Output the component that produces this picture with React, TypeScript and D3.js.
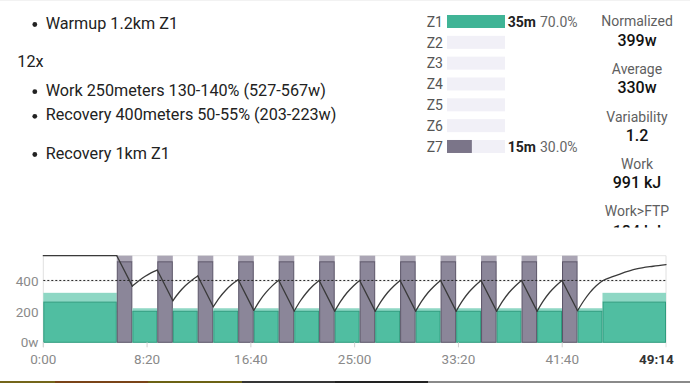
import React from "react";
import * as d3 from "d3";

// ---------- data ----------
const steps = [
  "Warmup 1.2km Z1",
  "Work 250meters 130-140% (527-567w)",
  "Recovery 400meters 50-55% (203-223w)",
  "Recovery 1km Z1",
];
const repeatLabel = "12x";

const zoneNames = ["Z1", "Z2", "Z3", "Z4", "Z5", "Z6", "Z7"];
const zoneMinutes = [35, 0, 0, 0, 0, 0, 15];
const zonePercent = [70.0, 0, 0, 0, 0, 0, 30.0];

const statLabels = ["Normalized", "Average", "Variability", "Work", "Work>FTP"];
const statValues = ["399w", "330w", "1.2", "991 kJ", "184 kJ"];

// workout intervals (seconds, watts)
const intervalStart = [0, 354, 429, 549, 624, 744, 819, 939, 1014, 1134, 1209, 1329, 1404, 1524, 1599, 1719, 1794, 1914, 1989, 2109, 2184, 2304, 2379, 2499, 2574, 2694];
const intervalEnd = [354, 429, 549, 624, 744, 819, 939, 1014, 1134, 1209, 1329, 1404, 1524, 1599, 1719, 1794, 1914, 1989, 2109, 2184, 2304, 2379, 2499, 2574, 2694, 3000];
const intervalLow = [263, 527, 203, 527, 203, 527, 203, 527, 203, 527, 203, 527, 203, 527, 203, 527, 203, 527, 203, 527, 203, 527, 203, 527, 203, 263];
const intervalHigh = [324, 567, 223, 567, 223, 567, 223, 567, 223, 567, 223, 567, 223, 567, 223, 567, 223, 567, 223, 567, 223, 567, 223, 567, 223, 324];
const intervalZone = ["Z1", "Z7", "Z1", "Z7", "Z1", "Z7", "Z1", "Z7", "Z1", "Z7", "Z1", "Z7", "Z1", "Z7", "Z1", "Z7", "Z1", "Z7", "Z1", "Z7", "Z1", "Z7", "Z1", "Z7", "Z1", "Z1"];

const ftp = 405;

// W' balance style line (watts scale)
const wbalStart = 567;
const wbalWorkStart = [567, 473, 434, 410, 406, 405, 405, 405, 405, 405, 405, 405];
const wbalWorkEnd = [368, 272, 233, 209, 205, 204, 204, 204, 204, 204, 204, 207];
const wbalRec30 = [402, 326, 293, 275, 272, 271, 271, 271, 271, 271, 271, 272];
const wbalRec60 = [431, 370, 341, 328, 326, 326, 326, 326, 326, 326, 326, 327];
const wbalRec90 = [455, 405, 380, 371, 370, 369, 369, 369, 369, 369, 369, 370];
const wbalRecEnd = [473, 434, 410, 406, 405, 405, 405, 405, 405, 405, 405, 403];
const cooldownT = [2694, 2739, 2778, 2858, 2938, 3000];
const cooldownW = [403, 428, 447, 480, 498, 509];

const xTickValues = [0, 500, 1000, 1500, 2000, 2500];
const xTickLabels = ["0:00", "8:20", "16:40", "25:00", "33:20", "41:40"];
const endTickValue = 2954;
const endTickLabel = "49:14";
const yTickValues = [0, 200, 400];
const yTickLabels = ["0w", "200", "400"];

const stripStops = [0, 55, 148, 242, 335, 428, 690];
const stripColors = ["#74661a", "#7a4418", "#6c6214", "#353535", "#222222", "#8a8a8a"];

// ---------- component ----------
export default function App() {
  const W = 690, H = 383;
  const font = "Roboto, 'Noto Sans', sans-serif";

  const x = d3.scaleLinear().domain([0, 3000]).range([43.3, 666]);
  const y = d3.scaleLinear().domain([0, 567]).range([342.3, 255.7]);

  const zoneMax = d3.max(zoneMinutes) as number;
  const zx = d3.scaleLinear().domain([0, zoneMax]).range([0, 58]);

  const lin = d3.line<[number, number]>().x(d => x(d[0])).y(d => y(d[1]));
  const mono = d3.line<[number, number]>().x(d => x(d[0])).y(d => y(d[1])).curve(d3.curveMonotoneX);

  const workIdx = intervalZone.map((z, i) => (z === "Z7" ? i : -1)).filter(i => i >= 0);

  const linearPieces: [number, number][][] = [];
  const curvePieces: [number, number][][] = [];
  linearPieces.push([[0, wbalStart], [intervalStart[workIdx[0]], wbalStart]]);
  workIdx.forEach((wi, k) => {
    const s = intervalStart[wi], e = intervalEnd[wi];
    linearPieces.push([[s, wbalWorkStart[k]], [e, wbalWorkEnd[k]]]);
    curvePieces.push([
      [e, wbalWorkEnd[k]],
      [e + 30, wbalRec30[k]],
      [e + 60, wbalRec60[k]],
      [e + 90, wbalRec90[k]],
      [intervalEnd[wi + 1], wbalRecEnd[k]],
    ]);
  });
  curvePieces.push(cooldownT.map((t, i) => [t, cooldownW[i]] as [number, number]));

  const zoneBase = 26.7, zoneStep = 20.83;
  const statLabelY = [26, 74, 121.7, 169, 215.7];
  const statValueY = [46, 93.3, 140.7, 187.7, 237.2];

  const textBase = [28.5, 95.7, 120.3, 158.5];

  return (
    <svg width={W} height={H} style={{ position: "absolute", left: 0, top: 0, fontFamily: font }}>
      <defs>
        <clipPath id="statClip">
          <rect x={580} y={0} width={110} height={227.6} />
        </clipPath>
      </defs>
      <rect x={0} y={0} width={W} height={H} fill="#fff" />
      <line x1={0} x2={W} y1={0.5} y2={0.5} stroke="#f2f2f2" />

      {/* workout description */}
      {steps.map((s, i) => (
        <g key={s}>
          <circle cx={34.8} cy={textBase[i] - 4} r={2.4} fill="#222" />
          <text x={45.7} y={textBase[i]} fontSize={16.2} fill="#222">{s}</text>
        </g>
      ))}
      <text x={17.3} y={66.7} fontSize={16.2} fill="#222">{repeatLabel}</text>

      {/* zone distribution */}
      {zoneNames.map((z, i) => {
        const by = zoneBase + zoneStep * i;
        const color = z === "Z7" ? "#7b7589" : "#40b496";
        return (
          <g key={z}>
            <text x={443} y={by} fontSize={14} fill="#555" textAnchor="end">{z}</text>
            <rect x={447} y={by - 11.7} width={58} height={13} fill="#f1f0f7" />
            {zoneMinutes[i] > 0 && (
              <>
                <rect x={447} y={by - 11.7} width={zx(zoneMinutes[i])} height={13} fill={color} />
                <text x={507.7} y={by} fontSize={14} fontWeight={700} fill="#222">{zoneMinutes[i]}m</text>
                <text x={540} y={by} fontSize={14} fill="#666">{zonePercent[i].toFixed(1)}%</text>
              </>
            )}
          </g>
        );
      })}

      {/* stats */}
      <g clipPath="url(#statClip)">
        {statLabels.map((l, i) => (
          <g key={l}>
            <text x={637} y={statLabelY[i]} fontSize={14} fill="#5f5f5f" textAnchor="middle">{l}</text>
            <text x={637} y={statValueY[i]} fontSize={16} fontWeight={500} fill="#111" textAnchor="middle">{statValues[i]}</text>
          </g>
        ))}
      </g>

      {/* chart grid */}
      <line x1={x(0)} x2={x(3000)} y1={y(567)} y2={y(567)} stroke="#e4e4e4" />
      <line x1={x(0)} x2={x(0)} y1={y(567)} y2={y(0) + 5} stroke="#e0e0e0" />
      <line x1={x(3000)} x2={x(3000)} y1={y(567)} y2={y(0) + 5} stroke="#e0e0e0" />
      <line x1={x(0)} x2={x(3000)} y1={y(200)} y2={y(200)} stroke="#ececec" />
      <line x1={x(0)} x2={x(3000)} y1={y(400)} y2={y(400)} stroke="#ececec" />

      {/* intervals */}
      {intervalStart.map((s, i) => {
        const e = intervalEnd[i];
        const isWork = intervalZone[i] === "Z7";
        const light = isWork ? "#aaa5b4" : "#8ed7c4";
        const dark = isWork ? "#857f93" : "#47bb9c";
        const edge = isWork ? "#5b5568" : "#2e9c7e";
        return (
          <g key={i}>
            <rect x={x(s)} y={y(intervalHigh[i])} width={x(e) - x(s)} height={y(intervalLow[i]) - y(intervalHigh[i])} fill={light} />
            <rect x={x(s) + 0.5} y={y(intervalLow[i])} width={x(e) - x(s) - 1} height={y(0) - y(intervalLow[i])} fill={dark} fillOpacity={0.95} stroke={edge} strokeWidth={1} />
          </g>
        );
      })}

      {/* FTP dashed line */}
      <line x1={x(0)} x2={x(3000)} y1={y(ftp)} y2={y(ftp)} stroke="#222" strokeWidth={1} strokeDasharray="2,2" />

      {/* balance line */}
      {linearPieces.map((p, i) => (
        <path key={"l" + i} d={lin(p) || ""} fill="none" stroke="#3a3a3a" strokeWidth={1.3} strokeLinecap="round" />
      ))}
      {curvePieces.map((p, i) => (
        <path key={"c" + i} d={mono(p) || ""} fill="none" stroke="#3a3a3a" strokeWidth={1.3} strokeLinecap="round" />
      ))}

      {/* axes */}
      {yTickValues.map((v, i) => (
        <text key={v} x={38.5} y={y(v) + 4.8} fontSize={13.5} fill="#8a8a8a" textAnchor="end">{yTickLabels[i]}</text>
      ))}
      {xTickValues.map((v, i) => (
        <g key={v}>
          <line x1={x(v)} x2={x(v)} y1={y(0)} y2={y(0) + 5} stroke="#d0d0d0" />
          <text x={x(v)} y={363.5} fontSize={13.5} fill="#8a8a8a" textAnchor="middle">{xTickLabels[i]}</text>
        </g>
      ))}
      <text x={x(endTickValue)} y={363.5} fontSize={13.5} fontWeight={700} fill="#333" textAnchor="middle">{endTickLabel}</text>

      {/* bottom strip */}
      {stripColors.map((c, i) => (
        <rect key={i} x={stripStops[i]} y={381} width={stripStops[i + 1] - stripStops[i]} height={2} fill={c} />
      ))}
    </svg>
  );
}
